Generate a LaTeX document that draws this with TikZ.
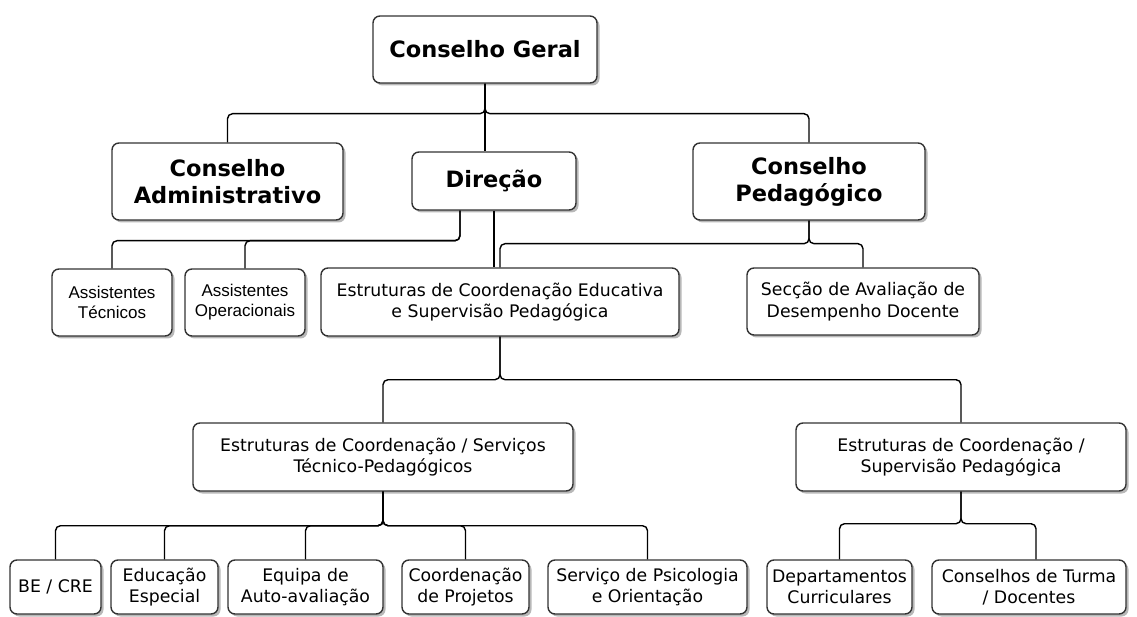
\documentclass[tikz,border=0pt]{standalone}
\usepackage{fontspec}
\setmainfont{DejaVu Sans}
\newfontfamily\arialfont{Liberation Sans}
\usetikzlibrary{shadows,calc}

\begin{document}
\begin{tikzpicture}[x=1pt,y=-1pt,
    box/.style={draw=black!80,line width=1.4pt,rounded corners=7pt,fill=white,
      align=center,inner sep=0pt,
      drop shadow={shadow xshift=2.5pt,shadow yshift=-2.5pt,fill=black!35,opacity=0.8}},
    bigbox/.style={box,font=\bfseries\fontsize{22.5}{27}\selectfont},
    smallbox/.style={box,font=\fontsize{17.3}{21.5}\selectfont},
    arialbox/.style={box,font=\arialfont\fontsize{17}{20}\selectfont},
    link/.style={line width=1.4pt,rounded corners=5pt}]

        \useasboundingbox (0,0) rectangle (1137,617);

        % Top levels
        \node[bigbox,minimum width=224pt,minimum height=67pt] (cg) at (485,49.5) {Conselho Geral};
        \node[bigbox,minimum width=231pt,minimum height=77pt] (ca) at (227.5,181.5) {Conselho\\Administrativo};
        \node[bigbox,minimum width=164pt,minimum height=58pt] (dir) at (494,181) {Direção};
        \node[bigbox,minimum width=232pt,minimum height=77pt] (cp) at (809,181.5) {Conselho\\Pedagógico};

        % Third row
        \node[arialbox,minimum width=120pt,minimum height=67pt] (at) at (112,302.5) {Assistentes\\Técnicos};
        \node[arialbox,minimum width=120pt,minimum height=67pt] (ao) at (245,302.5) {Assistentes\\Operacionais};
        \node[smallbox,minimum width=358pt,minimum height=68pt] (ece) at (500,302) {Estruturas de Coordenação Educativa\\e Supervisão Pedagógica};
        \node[smallbox,minimum width=232pt,minimum height=67pt] (sec) at (863,301.5) {Secção de Avaliação de\\Desempenho Docente};

        % Fourth row
        \node[smallbox,minimum width=380pt,minimum height=68pt] (ecst) at (383,457) {Estruturas de Coordenação / Serviços\\Técnico-Pedagógicos};
        \node[smallbox,minimum width=330pt,minimum height=68pt] (ecsp) at (961,457) {Estruturas de Coordenação /\\Supervisão Pedagógica};

        % Bottom row
        \node[smallbox,minimum width=91pt,minimum height=54pt] (be) at (55.5,587) {BE / CRE};
        \node[smallbox,minimum width=107pt,minimum height=54pt] (ee) at (164.5,587) {Educação\\Especial};
        \node[smallbox,minimum width=155pt,minimum height=54pt] (eq) at (305.5,587) {Equipa de\\Auto-avaliação};
        \node[smallbox,minimum width=127pt,minimum height=54pt] (proj) at (465.5,587) {Coordenação\\de Projetos};
        \node[smallbox,minimum width=199pt,minimum height=54pt] (spo) at (647.5,587) {Serviço de Psicologia\\e Orientação};
        \node[smallbox,minimum width=145pt,minimum height=54pt] (dep) at (839.5,587) {Departamentos\\Curriculares};
        \node[smallbox,minimum width=194pt,minimum height=54pt] (ct) at (1029,587) {Conselhos de Turma\\/ Docentes};

        % Connectors
        \draw[link] (cg.south) -- ++(0,30) -| (ca.north);
        \draw[link] (cg.south) -- ++(0,30) -| (cp.north);
        \draw[link] (cg.south) -- (cg.south |- dir.north);

        \draw[link] ([xshift=-34pt]dir.south) -- ++(0,30) -| (at.north);
        \draw[link] ([xshift=-34pt]dir.south) -- ++(0,30) -| (ao.north);
        \draw[link] (dir.south) -- (dir.south |- ece.north);

        \draw[link] (cp.south) -- ++(0,23) -| (ece.north);
        \draw[link] (cp.south) -- ++(0,23) -| (sec.north);

        \draw[link] (ece.south) -- ++(0,43) -| (ecst.north);
        \draw[link] (ece.south) -- ++(0,43) -| (ecsp.north);

        \foreach \n in {be,ee,eq,proj,spo}
            \draw[link] (ecst.south) -- ++(0,34) -| (\n.north);
        \draw[link] (ecsp.south) -- ++(0,32) -| (dep.north);
        \draw[link] (ecsp.south) -- ++(0,32) -| ([xshift=7pt]ct.north);
    \end{tikzpicture}
\end{document}
